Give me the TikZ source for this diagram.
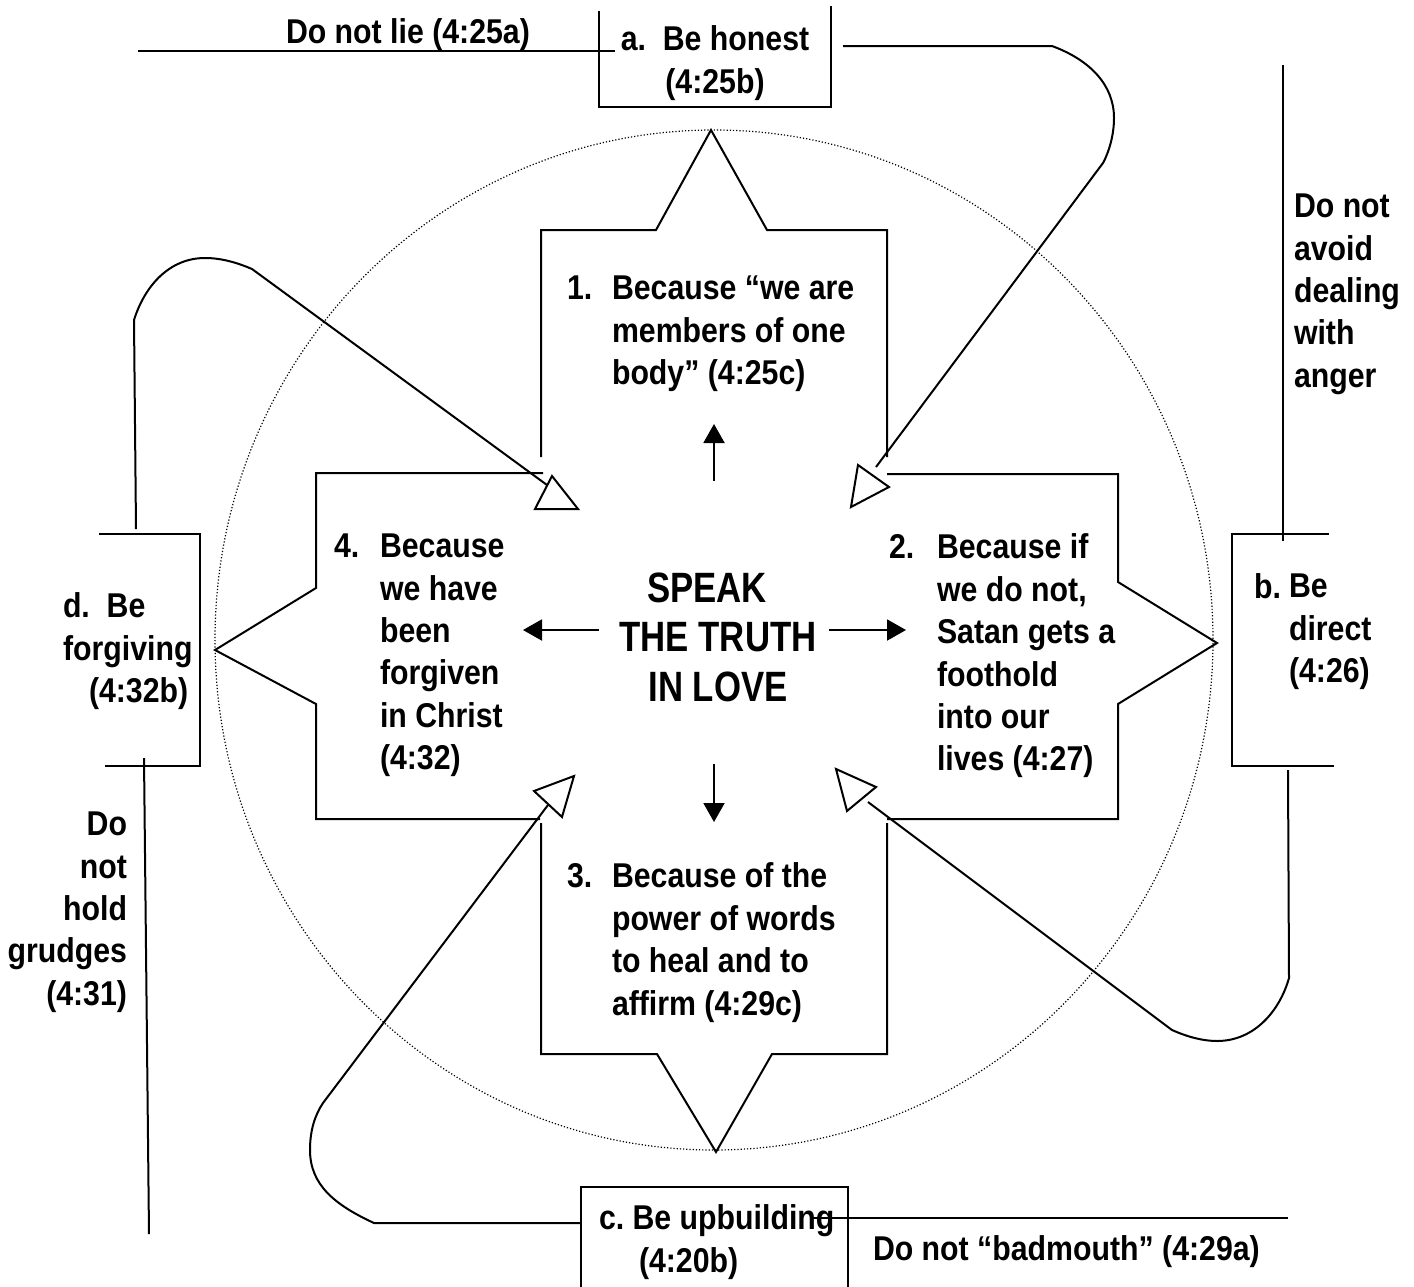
\documentclass[tikz,border=0pt]{standalone}
\usepackage{fontspec}
\setmainfont{Liberation Sans}[FakeStretch=0.88]
\newfontfamily\hubfamily{Liberation Sans}[FakeStretch=0.82]
\usetikzlibrary{arrows.meta}
\newcommand\txtfont{\fontsize{17.2}{21.2}\selectfont\bfseries}
\newcommand\hubfont{\hubfamily\fontsize{21.2}{24.75}\selectfont\bfseries}
\frenchspacing
\begin{document}
\begin{tikzpicture}[x=0.5pt,y=-0.5pt,line width=1pt,
  every node/.style={inner sep=0pt},
  txt/.style={font=\txtfont, align=left, anchor=north west},
  hollow/.style={draw, fill=white, line width=1pt, line join=miter},
  push/.style={-{Triangle[length=9.5pt,width=10.5pt]}, line width=1pt},
  ring/.style={line width=0.6pt, dash pattern=on 0.6pt off 1pt}]
\useasboundingbox (0,0) rectangle (1414,1286);

% dotted ring behind the star
\draw[ring] (714,640) ellipse [x radius=499, y radius=510];

% four-armed star, drawn arm by arm
\draw (541,457) -- (541,230) -- (656,230) -- (711,130) -- (767,230) -- (887,230) -- (887,457);
\draw (887,474) -- (1118,474) -- (1118,582) -- (1217,643) -- (1118,704) -- (1118,819) -- (887,819);
\draw (887,823) -- (887,1054) -- (772,1054) -- (716,1152) -- (657,1054) -- (541,1054) -- (541,823);
\draw (540,819) -- (316,819) -- (316,704) -- (215,650) -- (316,588) -- (316,473) -- (543,473);

% centre
\node[font=\hubfont, align=center] (hub) at (718,637) {SPEAK\hspace*{11pt}\\THE TRUTH\\IN LOVE};
\coordinate (hubN) at (714,481); \coordinate (hubS) at (714,764);
\coordinate (hubW) at (599,630); \coordinate (hubE) at (829,630);
\coordinate (tipN) at (714,424); \coordinate (tipS) at (714,822);
\coordinate (tipW) at (523,630); \coordinate (tipE) at (906,630);
\draw[push] (hubN) -- (tipN);
\draw[push] (hubS) -- (tipS);
\draw[push] (hubW) -- (tipW);
\draw[push] (hubE) -- (tipE);

% reasons in the arms
\node[txt] (n1) at (566,275) {1.};
\node[txt] (r1) at (611,275) {Because “we are\\members of one\\body” (4:25c)};
\node[txt] (n2) at (888,533) {2.};
\node[txt] (r2) at (936,533) {Because if\\we do not,\\Satan gets a\\foothold\\into our\\lives (4:27)};
\node[txt] (n3) at (566,862) {3.};
\node[txt] (r3) at (611,862) {Because of the\\power of words\\to heal and to\\affirm (4:29c)};
\node[txt] (n4) at (333,533) {4.};
\node[txt] (r4) at (379,533) {Because\\we have\\been\\forgiven\\in Christ\\(4:32)};

% bracket a (top)
\coordinate (aL) at (599,11); \coordinate (aLB) at (599,107);
\coordinate (aRB) at (831,107); \coordinate (aR) at (831,6);
\draw (aL) -- (aLB) -- (aRB) -- (aR);
\node[font=\txtfont, align=center, anchor=north] (ta) at (715,25) {a.~~Be honest\\(4:25b)};
\coordinate (lieW) at (138,51); \coordinate (lieE) at (615,51);
\draw (lieW) -- (lieE);
\node[font=\txtfont, anchor=base west] (lie) at (285,43) {Do not lie (4:25a)};

% bracket b (right)
\coordinate (bTR) at (1329,534); \coordinate (bTL) at (1232,534);
\coordinate (bBL) at (1232,766); \coordinate (bBR) at (1334,766);
\draw (bTR) -- (bTL) -- (bBL) -- (bBR);
\node[txt] (bn) at (1253,573) {b.};
\node[txt] (tb) at (1288,573) {Be\\direct\\(4:26)};
\coordinate (angT) at (1283,65); \coordinate (angB) at (1283,541);
\draw (angT) -- (angB);
\node[txt] (anger) at (1293,193) {Do not\\avoid\\dealing\\with\\anger};

% bracket c (bottom)
\coordinate (cLB) at (581,1290); \coordinate (cLT) at (581,1187);
\coordinate (cRT) at (848,1187); \coordinate (cRB) at (848,1290);
\draw (cLB) -- (cLT) -- (cRT) -- (cRB);
\node[txt] (tc) at (598,1204) {c. Be upbuilding\\\hspace*{20pt}(4:20b)};
\coordinate (badW) at (813,1218); \coordinate (badE) at (1288,1218);
\draw (badW) -- (badE);
\node[font=\txtfont, anchor=base west] (bad) at (872,1260) {Do not “badmouth” (4:29a)};

% bracket d (left)
\coordinate (dTL) at (99,534); \coordinate (dTR) at (200,534);
\coordinate (dBR) at (200,766); \coordinate (dBL) at (105,766);
\draw (dTL) -- (dTR) -- (dBR) -- (dBL);
\node[txt] (td) at (62,592) {d.~~Be\\forgiving\\\hspace*{13pt}(4:32b)};
\coordinate (grT) at (144,758); \coordinate (grB) at (149,1234);
\draw (grT) -- (grB);
\node[font=\txtfont, align=right, anchor=north east] (grudge) at (128,811) {Do\\not\\hold\\grudges\\(4:31)};

% looping connectors from the brackets back into the star
\coordinate (aOut) at (843,46);
\coordinate (tipTR) at (876,467);
\draw (aOut) -- (1052,46) .. controls (1090,60) and (1114,85) .. (1114,118)
      .. controls (1114,135) and (1109,152) .. (1103,163) -- (tipTR);

\coordinate (dUp) at (136,529);
\coordinate (tipTL) at (547,485);
\draw (dUp) -- (134,320) .. controls (145,285) and (170,258) .. (205,258)
      .. controls (222,258) and (238,263) .. (252,269) -- (tipTL);

\coordinate (bDown) at (1288,770);
\coordinate (tipBR) at (868,802);
\draw (bDown) -- (1289,978) .. controls (1280,1010) and (1255,1041) .. (1217,1041)
      .. controls (1205,1041) and (1190,1038) .. (1172,1030) -- (tipBR);

\coordinate (cOut) at (581,1223);
\coordinate (tipBL) at (548,805);
\draw (cOut) -- (374,1223) .. controls (335,1205) and (310,1185) .. (310,1150)
      .. controls (310,1130) and (315,1115) .. (323,1103) -- (tipBL);

% open arrowheads
\draw[hollow] (552,476) -- (578,509) -- (535,509) -- cycle;
\draw[hollow] (858,465) -- (889,487) -- (851,507) -- cycle;
\draw[hollow] (534,791) -- (574,776) -- (562,817) -- cycle;
\draw[hollow] (836,769) -- (876,787) -- (847,811) -- cycle;
\end{tikzpicture}
\end{document}
